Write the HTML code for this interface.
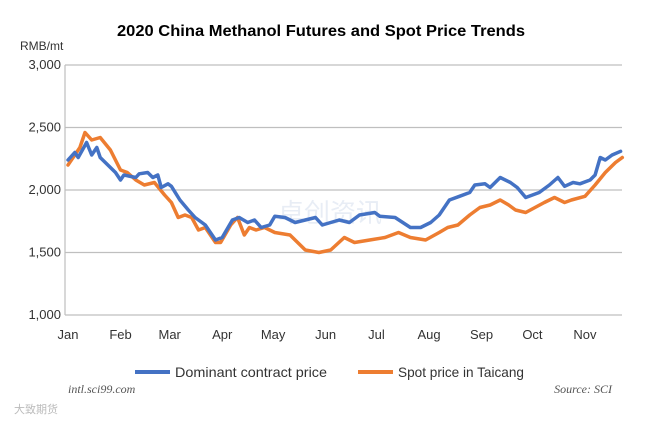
<!DOCTYPE html>
<html><head><meta charset="utf-8"><style>
body{margin:0;background:#fff;}
svg text{font-family:"Liberation Sans","Noto Sans CJK SC",sans-serif;}
</style></head><body>
<svg width="652" height="428" viewBox="0 0 652 428">
<rect width="652" height="428" fill="#fff"/>
<text x="117" y="36" textLength="408" lengthAdjust="spacingAndGlyphs" font-size="16" font-weight="bold" fill="#000">2020 China Methanol Futures and Spot Price Trends</text>
<text x="20" y="50" font-size="12" fill="#333">RMB/mt</text>
<text x="330" y="222" text-anchor="middle" font-size="26" fill="#dfe6f2" opacity="0.7">卓创资讯</text>
<g id="grid"></g><g id="ylab"></g><g id="xlab"></g><g id="series"></g>
<g>
<line x1="135" y1="372" x2="170" y2="372" stroke="#4472C4" stroke-width="4"/>
<text x="175" y="377" textLength="152" lengthAdjust="spacingAndGlyphs" font-size="14" fill="#333">Dominant contract price</text>
<line x1="358" y1="372" x2="393" y2="372" stroke="#ED7D31" stroke-width="4"/>
<text x="398" y="377" textLength="126" lengthAdjust="spacingAndGlyphs" font-size="14" fill="#333">Spot price in Taicang</text>
</g>
<text x="68" y="393" font-size="12" font-style="italic" fill="#555" style="font-family:'Liberation Serif',serif">intl.sci99.com</text>
<text x="612" y="393" text-anchor="end" font-size="12" font-style="italic" fill="#555" style="font-family:'Liberation Serif',serif">Source: SCI</text>
<text x="14" y="413" font-size="11" fill="#bbb">大致期货</text>
</svg>
<script>
const yTicks=[1000,1500,2000,2500,3000];
const yTickLabels=["1,000","1,500","2,000","2,500","3,000"];
const monthLabels=["Jan","Feb","Mar","Apr","May","Jun","Jul","Aug","Sep","Oct","Nov"];
const monthDays=[0,31,60,91,121,152,182,213,244,274,305];
const blueDays=[0,4,6,11,14,17,19,28,31,33,40,42,47,50,53,55,59,61,66,71,75,81,87,91,97,101,106,110,114,119,122,128,134,140,146,150,155,160,166,172,181,184,193,202,208,214,219,225,231,237,240,246,249,255,261,265,270,278,284,289,293,298,302,308,311,314,317,321,326];
const blueVals=[2240,2300,2260,2380,2280,2340,2260,2140,2080,2120,2100,2130,2140,2100,2120,2020,2050,2030,1920,1840,1780,1720,1600,1620,1760,1780,1740,1760,1700,1720,1790,1780,1740,1760,1780,1720,1740,1760,1740,1800,1820,1790,1780,1700,1700,1740,1800,1920,1950,1980,2040,2050,2020,2100,2060,2020,1940,1980,2040,2100,2030,2060,2050,2080,2120,2260,2240,2280,2310];
const orangeDays=[0,4,7,10,14,19,25,31,35,40,45,51,57,61,65,69,73,77,81,87,90,96,100,104,107,111,116,122,131,140,148,155,163,169,178,187,195,202,211,219,224,230,237,243,249,255,260,264,270,281,287,293,297,305,311,317,323,327];
const orangeVals=[2200,2280,2340,2460,2400,2420,2320,2160,2140,2080,2040,2060,1960,1900,1780,1800,1780,1680,1700,1580,1580,1720,1780,1640,1700,1680,1700,1660,1640,1520,1500,1520,1620,1580,1600,1620,1660,1620,1600,1660,1700,1720,1800,1860,1880,1920,1880,1840,1820,1900,1940,1900,1920,1950,2040,2140,2220,2260];
const NS="http://www.w3.org/2000/svg";
const xS=d=>68+d*1.695;
const yS=v=>315-(v-1000)*0.125;
function mk(t,a,p){const e=document.createElementNS(NS,t);for(const k in a)e.setAttribute(k,a[k]);p.appendChild(e);return e;}
const grid=document.getElementById('grid'),ylab=document.getElementById('ylab'),xlab=document.getElementById('xlab'),ser=document.getElementById('series');
yTicks.forEach((v,i)=>{
 const l=mk('line',{x1:65,x2:622,y1:yS(v),y2:yS(v),stroke:'#bfbfbf','stroke-width':1.2},grid);
 
 
 const t=mk('text',{x:61,y:yS(v)+4,'text-anchor':'end','font-size':13,fill:'#333'},ylab);
 t.textContent=yTickLabels[i];
 
 
});
const ax=mk('line',{x1:65,x2:65,y1:yS(3000),y2:yS(1000),stroke:'#bfbfbf','stroke-width':1.2},grid);


monthLabels.forEach((m,i)=>{
 const t=mk('text',{x:xS(monthDays[i]),y:339,'text-anchor':'middle','font-size':13,fill:'#333'},xlab);
 t.textContent=m;
 
 
});
function line(days,vals,color,name){
 const d=days.map((x,i)=>(i?'L':'M')+xS(x).toFixed(1)+' '+yS(vals[i]).toFixed(1)).join(' ');
 const p=mk('path',{d:d,fill:'none',stroke:color,'stroke-width':3.5,'stroke-linejoin':'round','stroke-linecap':'round'},ser);
 
 
}
line(orangeDays,orangeVals,'#ED7D31','spot-price-line');
line(blueDays,blueVals,'#4472C4','dominant-contract-line');
</script>
</body></html>
